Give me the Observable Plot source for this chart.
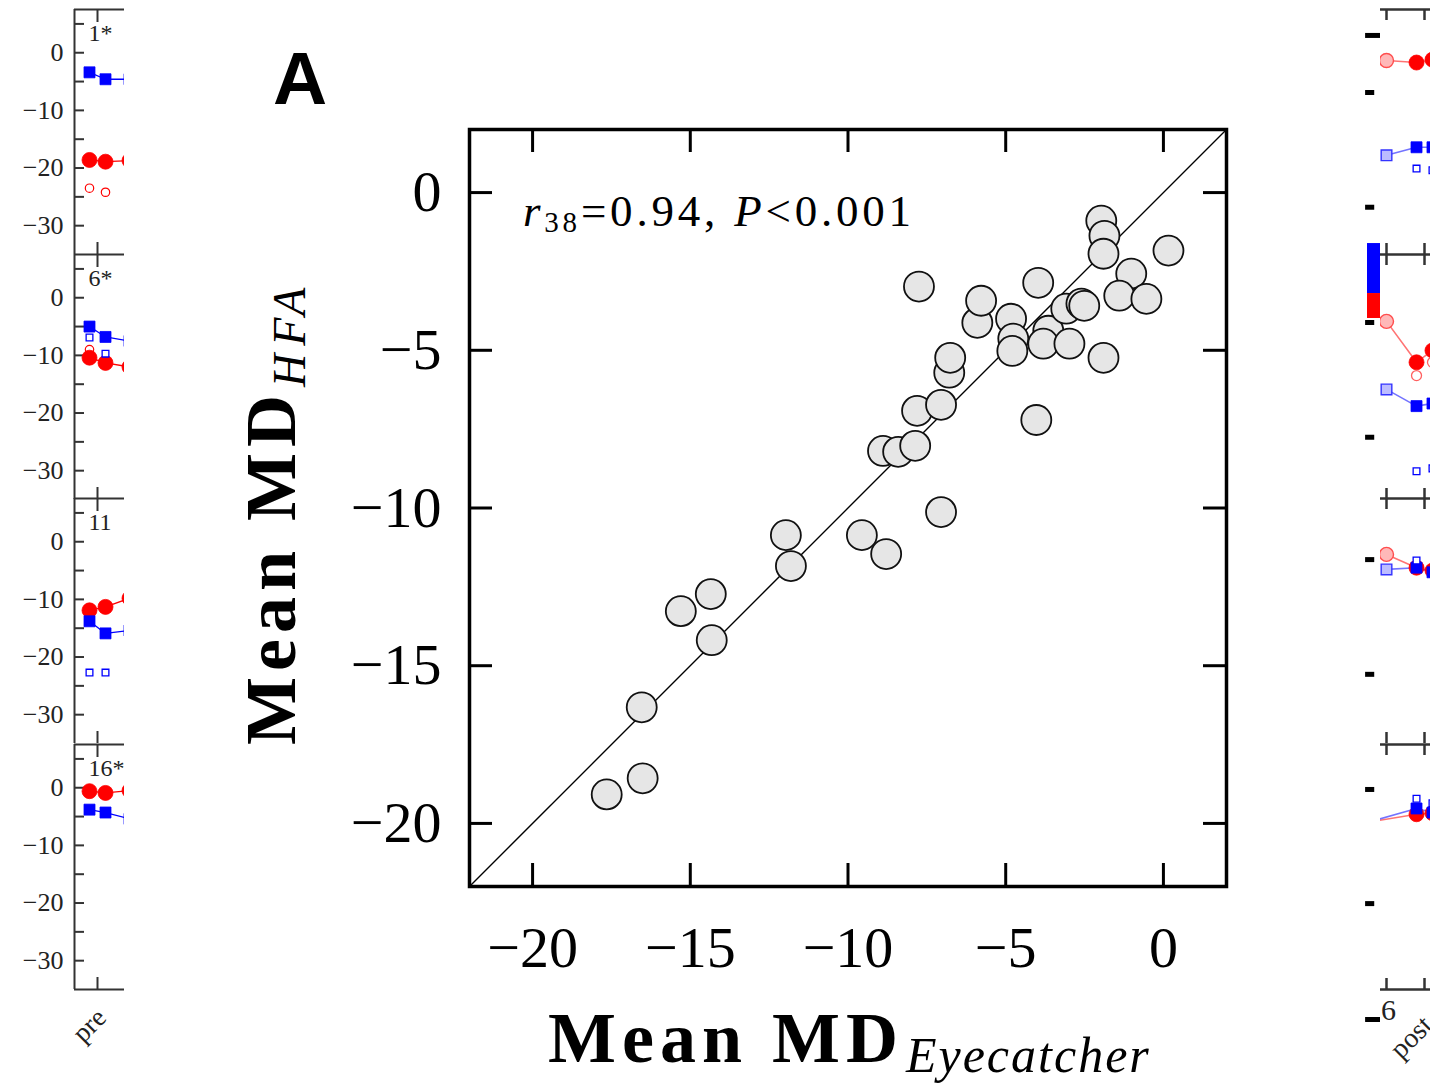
<!DOCTYPE html>
<html><head><meta charset="utf-8">
<script src="https://cdn.jsdelivr.net/npm/d3@7"></script>
<script src="https://cdn.jsdelivr.net/npm/@observablehq/plot@0.6"></script>
<style>
html,body{margin:0;padding:0;background:#fff;overflow:hidden;}
#fig{position:relative;width:1430px;height:1083px;overflow:hidden;}
#fig > svg{position:absolute;}
</style></head><body><div id="fig"></div>
<script>
// ---------- Main scatter (Mean MD, dB) ----------
const mdEyecatcher = [-17.65,-16.51,-16.54,-15.30,-14.35,-14.32,-11.97,-11.81,-9.56,-8.79,-7.05,-8.89,-8.41,-7.87,-7.81,-7.05,-6.79,-6.76,-7.75,-5.90,-5.78,-4.03,-4.83,-4.76,-4.79,-3.97,-3.65,-3.81,-3.08,-2.60,-2.51,-2.98,-1.97,-1.87,-1.90,-1.90,-1.02,-1.40,-0.54,0.16];
const mdHFA = [-19.08,-18.57,-16.32,-13.27,-12.73,-14.19,-10.86,-11.84,-10.86,-11.46,-10.13,-8.19,-8.22,-8.03,-6.92,-6.73,-5.71,-5.24,-2.98,-4.13,-3.43,-7.21,-4.00,-4.63,-5.02,-2.86,-4.38,-4.79,-3.68,-3.52,-3.59,-4.79,-0.89,-1.37,-1.94,-5.24,-2.57,-3.27,-3.37,-1.84];
const mainDomain = [-22, 2];
const mainTicks = [-20, -15, -10, -5, 0];
const corrDf = "38", corrR = "0.94", corrP = "0.001";
const panelLetter = "A";

// ---------- Left small multiples ----------
const leftPanelLabels = ["1*", "6*", "11", "16*"];
const leftX = [-0.25, 0.25, 1];          // two eyes at "pre", next session (cropped)
const leftOpenX = [-0.25, 0.25];
const leftRedFilled  = [[-18.6,-18.9,-18.7],[-10.4,-11.3,-12.0],[-11.9,-11.3,-9.8],[-0.6,-0.9,-0.5]];
const leftBlueFilled = [[-3.4,-4.6,-4.6],[-5.0,-6.8,-7.5],[-13.8,-15.9,-15.4],[-3.8,-4.3,-5.4]];
const leftRedOpen    = [[-23.5,-24.2],[-9.0,null],[null,null],[null,null]];
const leftBlueOpen   = [[null,null],[-6.9,-9.7],[-22.7,-22.7],[null,null]];
const sideDomain = [-35, 7.5];
const sideMajor = [0, -10, -20, -30];
const sideMinor = [5, 0, -5, -10, -15, -20, -25, -30];
const leftXDomain = [-23/32, 27/32];
const leftCategory = "pre";

// ---------- Right small multiples (cropped) ----------
const rightXDomain = [-6/38, 44/38];
const rightX = [0.79, 1.21];
const rightFirstX = [0, 0, 0, -0.5];
const rightRedFirst  = [-1.35, -4.1, -2.2, -6.0];
const rightBlueFirst = [-17.8, -15.9, -4.8, -6.0];
const rightRedFilled  = [[-1.7,-1.2],[-11.2,-9.15],[-4.5,-5.0],[-4.6,-4.4]];
const rightBlueFilled = [[-16.4,-16.4],[-18.8,-18.35],[-4.5,-5.3],[-3.6,-4.3]];
const rightRedOpen    = [[null,null],[-13.5,-11.2],[null,null],[null,null]];
const rightBlueOpen   = [[-20.1,-20.4],[-30.1,-29.6],[-3.25,null],[-1.9,-2.7]];
const rightDashY    = [[3.0,-6.9,-26.8],[-4.3,-24.2],[-3.1,-23.0],[-0.3,-20.1,-40.2]];
const rightDashWide = [[true,false,false],[false,false],[false,false],[false,false,true]];
const rightDashX = [-0.55, -0.31];
const rightBarX = -0.5;
const rightBar = [{y1: 9.4, y2: 0.73, c: "#0000ff"}, {y1: 0.73, y2: -3.6, c: "#ff0000"}];
const rightCategories = ["6", "post"];

// ---------- layout ----------
const W = 1430, H = 1083;
const frameL = 469, frameT = 129, frameR = 1226, frameB = 886;
const pw = frameR - frameL;
const serif = "'Liberation Serif','Times New Roman',serif";
const RED = "#ff0000", BLUE = "#0000ff", AX = "#333";
const fig = document.getElementById("fig");

const points = mdEyecatcher.map((x, i) => ({x, y: mdHFA[i]}));
const tick = 23;
const main = Plot.plot({
  width: W, height: H,
  marginLeft: frameL, marginTop: frameT, marginRight: W - frameR, marginBottom: H - frameB,
  x: {domain: mainDomain}, y: {domain: mainDomain},
  style: {background: "transparent", fontFamily: serif, color: "#000"},
  marks: [
    Plot.line(mainDomain, {x: d => d, y: d => d, stroke: "#000", strokeWidth: 1.4}),
    Plot.dot(points, {x: "x", y: "y", r: 15, fill: "#e6e6e6", stroke: "#111", strokeWidth: 1.8}),
    Plot.ruleX(mainTicks, {insetBottom: pw - tick, stroke: "#000", strokeWidth: 3}),
    Plot.ruleX(mainTicks, {insetTop: pw - tick, stroke: "#000", strokeWidth: 3}),
    Plot.ruleY(mainTicks, {insetRight: pw - tick, stroke: "#000", strokeWidth: 3}),
    Plot.ruleY(mainTicks, {insetLeft: pw - tick, stroke: "#000", strokeWidth: 3}),
    Plot.frame({stroke: "#000", strokeWidth: 3.5}),
    Plot.axisX({ticks: mainTicks, tickSize: 0, tickPadding: 39, fontSize: 58, label: null}),
    Plot.axisY({ticks: mainTicks, tickSize: 0, tickPadding: 28, fontSize: 58, label: null})
  ]
});
main.style.left = "0px"; main.style.top = "0px";
fig.appendChild(main);
const sm = d3.select(main);
// letter
sm.append("text").attr("x", 273).attr("y", 104).attr("font-family", "'Liberation Sans',Arial,sans-serif")
  .attr("font-weight", "bold").attr("font-size", 75).attr("text-anchor", "start").attr("fill", "#000").text(panelLetter);
// correlation annotation
const ann = sm.append("text").attr("x", 523).attr("y", 226).attr("font-family", serif)
  .attr("font-size", 45).attr("letter-spacing", 3.8).attr("text-anchor", "start").attr("fill", "#000");
ann.append("tspan").attr("font-style", "italic").text("r");
ann.append("tspan").attr("font-size", 29).attr("dy", 6).text(corrDf);
ann.append("tspan").attr("dy", -6).text("=" + corrR + ", ");
ann.append("tspan").attr("font-style", "italic").text("P");
ann.append("tspan").text("<" + corrP);
// x title
const xt = sm.append("text").attr("x", 548).attr("y", 1062).attr("font-family", serif)
  .attr("text-anchor", "start").attr("fill", "#000");
xt.append("tspan").attr("font-weight", "bold").attr("font-size", 72).attr("letter-spacing", 6).text("Mean MD");
xt.append("tspan").attr("font-style", "italic").attr("font-size", 50).attr("letter-spacing", 2).attr("dx", 2).attr("dy", 10).text("Eyecatcher");
// y title
const yt = sm.append("text").attr("transform", "translate(295,745) rotate(-90)").attr("font-family", serif)
  .attr("text-anchor", "start").attr("fill", "#000");
yt.append("tspan").attr("font-weight", "bold").attr("font-size", 72).attr("letter-spacing", 6).text("Mean MD");
yt.append("tspan").attr("font-style", "italic").attr("font-size", 46).attr("letter-spacing", 8).attr("dx", 2).attr("dy", 10).text("HFA");

// ---------- left panels ----------
const panelTops = [9, 254, 498, 744];
const panelH = 245;
panelTops.forEach((top, i) => {
  const mt = 3, mb = i === 3 ? 90 : 3;
  const red = leftX.map((x, j) => ({x, y: leftRedFilled[i][j]}));
  const blue = leftX.map((x, j) => ({x, y: leftBlueFilled[i][j]}));
  const redO = leftOpenX.map((x, j) => ({x, y: leftRedOpen[i][j]})).filter(d => d.y != null);
  const blueO = leftOpenX.map((x, j) => ({x, y: leftBlueOpen[i][j]})).filter(d => d.y != null);
  const marks = [
    Plot.ruleY([sideDomain[1]], {stroke: AX, strokeWidth: 2}),
    Plot.ruleX([leftXDomain[0]], {stroke: AX, strokeWidth: 2}),
    Plot.ruleY(sideMinor, {insetRight: 50 - 10, stroke: AX, strokeWidth: 2}),
    Plot.ruleX([0], {insetBottom: panelH - 13, stroke: AX, strokeWidth: 2}),
    Plot.ruleX([0], {insetTop: panelH - 12, stroke: AX, strokeWidth: 2}),
    Plot.axisY({ticks: sideMajor, tickSize: 0, tickPadding: 11, fontSize: 26, label: null, fill: "#222"}),
    Plot.text([leftPanelLabels[i]], {frameAnchor: "top-left", dx: 14, dy: 14, lineAnchor: "top", textAnchor: "start", fontSize: 24, fill: "#222"}),
    Plot.line(red, {x: "x", y: "y", stroke: RED, strokeWidth: 1.3}),
    Plot.dot(red, {x: "x", y: "y", r: 7.5, fill: RED, stroke: RED, strokeWidth: 0.8}),
    Plot.dot(redO, {x: "x", y: "y", r: 4.2, fill: "none", stroke: RED, strokeWidth: 1.2}),
    Plot.line(blue, {x: "x", y: "y", stroke: BLUE, strokeWidth: 1.3}),
    Plot.dot(blue, {x: "x", y: "y", r: 6.2, symbol: "square", fill: BLUE, stroke: BLUE, strokeWidth: 0.8}),
    Plot.dot(blueO, {x: "x", y: "y", r: 3.8, symbol: "square", fill: "white", stroke: BLUE, strokeWidth: 1.3})
  ];
  if (i === 3) {
    marks.push(Plot.ruleY([sideDomain[0]], {stroke: AX, strokeWidth: 2}));
    marks.push(Plot.text([leftCategory], {x: 0, frameAnchor: "bottom", dx: -2, dy: 42, rotate: -45, fontSize: 27, fill: "#222"}));
  }
  const svg = Plot.plot({
    width: 124, height: panelH + mt + mb,
    marginLeft: 74, marginRight: 0, marginTop: mt, marginBottom: mb,
    x: {domain: leftXDomain, axis: null}, y: {domain: sideDomain},
    style: {background: "transparent", overflow: "hidden", fontFamily: serif},
    marks
  });
  svg.style.left = "0px"; svg.style.top = (top - mt) + "px";
  fig.appendChild(svg);
});

// ---------- right panels ----------
panelTops.forEach((top, i) => {
  const mt = i === 1 ? 14 : 3, mb = i === 3 ? 96 : 3;
  const redS = [{x: rightFirstX[i], y: rightRedFirst[i]}, ...rightX.map((x, j) => ({x, y: rightRedFilled[i][j]}))];
  const blueS = [{x: rightFirstX[i], y: rightBlueFirst[i]}, ...rightX.map((x, j) => ({x, y: rightBlueFilled[i][j]}))];
  const redO = rightX.map((x, j) => ({x, y: rightRedOpen[i][j]})).filter(d => d.y != null);
  const blueO = rightX.map((x, j) => ({x, y: rightBlueOpen[i][j]})).filter(d => d.y != null);
  const dashes = rightDashY[i].map((y, j) => ({y, x1: rightDashX[0], x2: rightDashWide[i][j] ? rightXDomain[0] : rightDashX[1]}));
  const marks = [
    Plot.ruleY([sideDomain[1]], {stroke: AX, strokeWidth: 2.5}),
    Plot.ruleX([0, 1], {insetBottom: panelH - 11, stroke: AX, strokeWidth: 2.5}),
    Plot.ruleX([0, 1], {insetTop: panelH - 11, stroke: AX, strokeWidth: 2.5}),
    Plot.ruleY(dashes, {y: "y", x1: "x1", x2: "x2", stroke: "#000", strokeWidth: 5}),
    Plot.line(redS, {x: "x", y: "y", stroke: RED, strokeOpacity: 0.55, strokeWidth: 1.6, clip: true}),
    Plot.line(blueS, {x: "x", y: "y", stroke: BLUE, strokeOpacity: 0.55, strokeWidth: 1.6, clip: true}),
    Plot.dot(redS.slice(0, 1), {x: "x", y: "y", r: 7, fill: "#ffb8b8", stroke: "#ff4d4d", strokeWidth: 1.4, clip: true}),
    Plot.dot(blueS.slice(0, 1), {x: "x", y: "y", r: 6, symbol: "square", fill: "#bcbcff", stroke: "#3333ff", strokeWidth: 1.4, clip: true}),
    Plot.dot(redS.slice(1), {x: "x", y: "y", r: 7.5, fill: RED, stroke: RED, strokeWidth: 0.8, clip: true}),
    Plot.dot(redO, {x: "x", y: "y", r: 5, fill: "white", stroke: "#ff6060", strokeWidth: 1.3, clip: true}),
    Plot.dot(blueS.slice(1), {x: "x", y: "y", r: 6.2, symbol: "square", fill: BLUE, stroke: BLUE, strokeWidth: 0.8, clip: true}),
    Plot.dot(blueO, {x: "x", y: "y", r: 3.8, symbol: "square", fill: "white", stroke: BLUE, strokeWidth: 1.3, clip: true})
  ];
  if (i === 1) {
    marks.push(Plot.rect(rightBar, {x1: rightBarX, x2: rightXDomain[0], y1: "y1", y2: "y2", fill: "c"}));
  }
  if (i === 3) {
    marks.push(Plot.ruleY([sideDomain[0]], {stroke: AX, strokeWidth: 2.5}));
    marks.push(Plot.text([rightCategories[0]], {x: 0, frameAnchor: "bottom", dx: 2, dy: 30, fontSize: 30, fill: "#222"}));
    marks.push(Plot.text([rightCategories[1]], {x: 1, frameAnchor: "bottom", dx: -7, dy: 54, rotate: -45, fontSize: 28, fill: "#222"}));
  }
  const svg = Plot.plot({
    width: 70, height: panelH + mt + mb,
    marginLeft: 20, marginRight: 0, marginTop: mt, marginBottom: mb,
    x: {domain: rightXDomain, axis: null}, y: {domain: sideDomain, axis: null},
    style: {background: "transparent", overflow: "hidden", fontFamily: serif},
    marks
  });
  svg.style.left = "1360px"; svg.style.top = (top - mt) + "px";
  fig.appendChild(svg);
});
</script></body></html>
